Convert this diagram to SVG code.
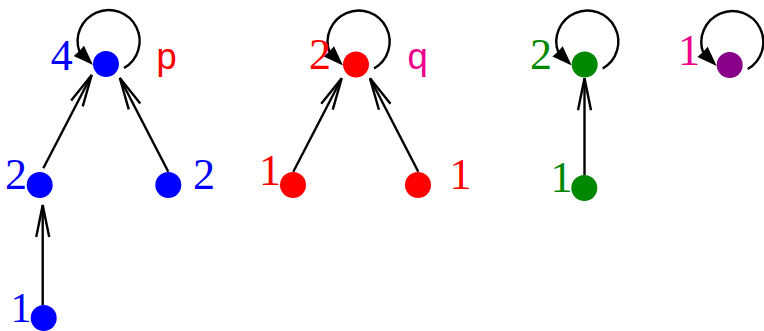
<svg xmlns="http://www.w3.org/2000/svg" width="764" height="331" viewBox="0 0 764 331">
<style>
.e{fill:none;stroke:#000;stroke-width:2.4}
.blue{fill:#0000ff}.red{fill:#ff0000}.green{fill:#008800}.purple{fill:#880088}.mag{fill:#ec008c}
</style>
<defs>
<marker id="chev" markerUnits="userSpaceOnUse" viewBox="0 0 36 16" markerWidth="36" markerHeight="16" refX="34" refY="8" orient="auto">
<path d="M2,1.5 L34,8 L2,14.5" fill="none" stroke="#000" stroke-width="2.4"/>
</marker>
<g id="loop">
<path class="e" d="M18,4 A31,31 0 1 0 -26.5,-12.3"/>
<path d="M-13,1 L-32.3,-8 Q-27,-12 -22,-18.3 z" fill="#000"/>
</g>
</defs>
<g id="connectors">
<line class="e" x1="43.3" y1="168.3" x2="91.7" y2="75" marker-end="url(#chev)"/>
<line class="e" x1="168.3" y1="171.7" x2="119.8" y2="78" marker-end="url(#chev)"/>
<line class="e" x1="42.7" y1="305" x2="42.7" y2="205" marker-end="url(#chev)"/>
<line class="e" x1="293.3" y1="171.7" x2="341.7" y2="78.3" marker-end="url(#chev)"/>
<line class="e" x1="418.3" y1="171.7" x2="370" y2="78.3" marker-end="url(#chev)"/>
<line class="e" x1="584.5" y1="175" x2="584.5" y2="78.3" marker-end="url(#chev)"/>
<use href="#loop" x="106" y="64"/>
<use href="#loop" x="356" y="64.5"/>
<use href="#loop" x="584.7" y="64.5"/>
<use href="#loop" x="729.7" y="65"/>
</g>
<g font-family="'Liberation Serif', 'DejaVu Serif', serif" font-size="44" text-anchor="middle">
<g id="p4"><circle class="blue" cx="106" cy="64" r="13"/><text class="blue" x="61.7" y="70">4</text><text class="red" x="166.7" y="68.5" font-family="'Liberation Mono', 'DejaVu Sans Mono', monospace" font-size="37">p</text></g>
<g id="p2a"><circle class="blue" cx="39.7" cy="185" r="13"/><text class="blue" x="16" y="189">2</text></g>
<g id="p2b"><circle class="blue" cx="168.3" cy="185" r="13"/><text class="blue" x="204" y="189">2</text></g>
<g id="p1"><circle class="blue" cx="43.7" cy="318" r="13"/><text class="blue" x="21" y="322" font-size="42">1</text></g>
<g id="q2"><circle class="red" cx="356" cy="64.5" r="13"/><text class="red" x="320" y="69">2</text><text class="mag" x="417.5" y="68.5" font-family="'Liberation Mono', 'DejaVu Sans Mono', monospace" font-size="37">q</text></g>
<g id="q1a"><circle class="red" cx="293" cy="185" r="13"/><text class="red" x="270" y="185">1</text></g>
<g id="q1b"><circle class="red" cx="418" cy="185" r="13"/><text class="red" x="460.5" y="189">1</text></g>
<g id="g2"><circle class="green" cx="584.7" cy="64.5" r="13"/><text class="green" x="541" y="69">2</text></g>
<g id="g1"><circle class="green" cx="584.3" cy="188" r="13"/><text class="green" x="561.5" y="192">1</text></g>
<g id="m1"><circle class="purple" cx="729.7" cy="65" r="13"/><text class="mag" x="689" y="65">1</text></g>
</g>
</svg>
